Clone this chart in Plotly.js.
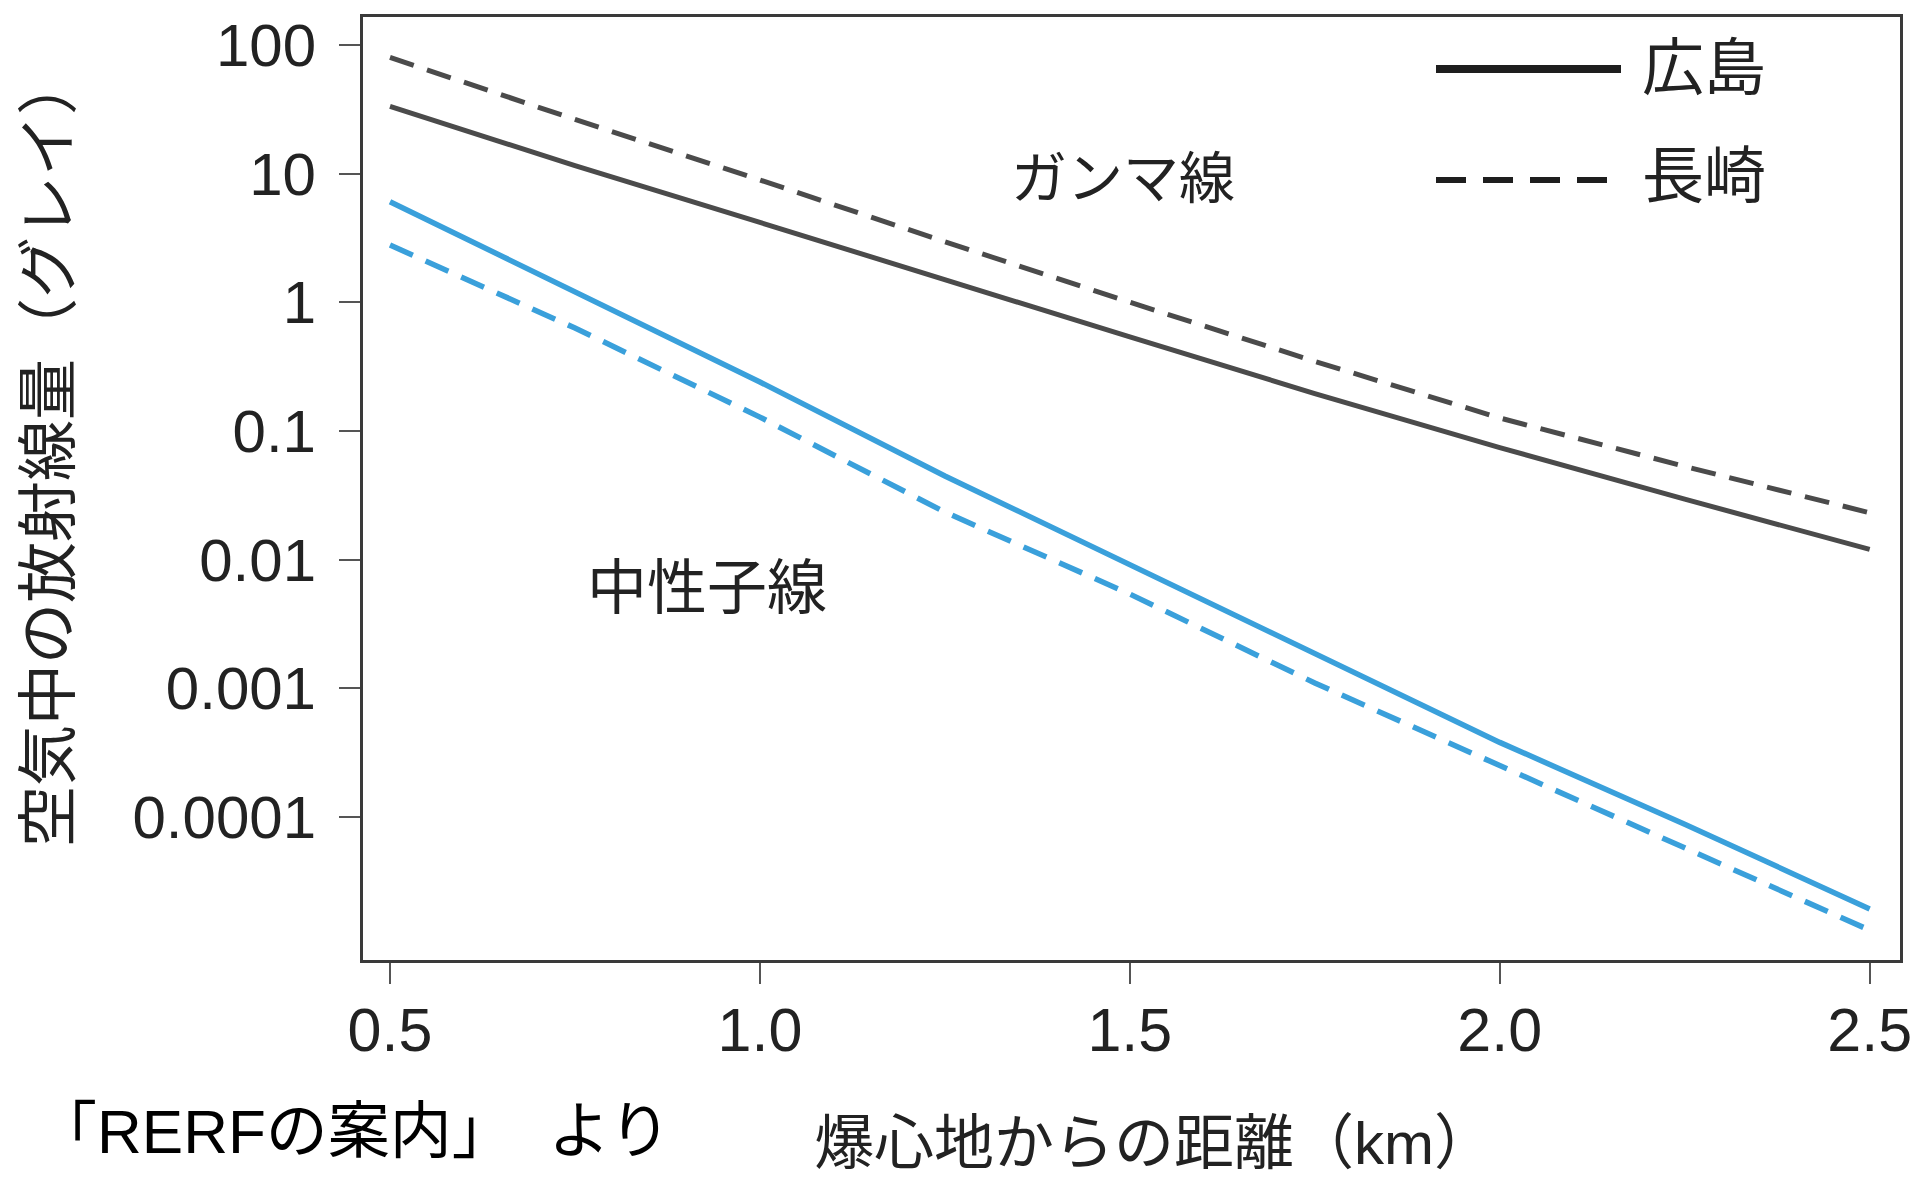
<!DOCTYPE html>
<html>
<head>
<meta charset="utf-8">
<script src="https://cdn.plot.ly/plotly-3.0.1.min.js"></script>
<style>
  html, body { margin: 0; padding: 0; background: #ffffff; }
  #chart { width: 1917px; height: 1183px; }
</style>
</head>
<body>
<div id="chart"></div>
<script>
// ---- data ----
const distanceKm = [0.5, 0.75, 1.0, 1.25, 1.5, 1.75, 2.0, 2.25, 2.5];
const gammaHiroshima   = [33.2, 11.5, 4.17, 1.48, 0.537, 0.195, 0.0741, 0.0295, 0.0120];
const gammaNagasaki    = [79.8, 26.3, 8.91, 2.95, 1.00, 0.347, 0.126, 0.0530, 0.0231];
const neutronHiroshima = [6.04, 1.22, 0.240, 0.0447, 0.00912, 0.00191, 0.000380, 0.0000880, 0.0000193];
const neutronNagasaki  = [2.78, 0.630, 0.128, 0.0234, 0.00540, 0.00110, 0.000251, 0.0000582, 0.0000132];
const yTickVals  = [100, 10, 1, 0.1, 0.01, 0.001, 0.0001];
const yTickText  = ['100', '10', '1', '0.1', '0.01', '0.001', '0.0001'];
const xTickVals  = [0.5, 1.0, 1.5, 2.0, 2.5];
const xTickText  = ['0.5', '1.0', '1.5', '2.0', '2.5'];
const cityNames  = ['広島', '長崎'];
const rayLabels  = ['ガンマ線', '中性子線'];
const xTitle     = '爆心地からの距離（km）';
const yTitle     = '空気中の放射線量（グレイ）';
const sourceNote = '「RERFの案内」\u00A0 より';

// ---- style ----
const FONT = 'Liberation Sans, Arial, Noto Sans CJK JP, sans-serif';
const GREY = '#4b4b4b';
const BLUE = '#3aa0db';
const TXT  = '#222222';

const W = 1917, H = 1183;
const M = {l: 363, r: 17, t: 17, b: 223};
const PW = W - M.l - M.r, PH = H - M.t - M.b;
const px = v => (v - M.l) / PW;
const py = v => 1 - (v - M.t) / PH;

const traces = [
  {x: distanceKm, y: gammaHiroshima, mode: 'lines', name: cityNames[0] + ' ' + rayLabels[0],
   line: {color: GREY, width: 5, dash: 'solid'}, showlegend: false},
  {x: distanceKm, y: gammaNagasaki, mode: 'lines', name: cityNames[1] + ' ' + rayLabels[0],
   line: {color: GREY, width: 5, dash: '25px,14px'}, showlegend: false},
  {x: distanceKm, y: neutronHiroshima, mode: 'lines', name: cityNames[0] + ' ' + rayLabels[1],
   line: {color: BLUE, width: 5.5, dash: 'solid'}, showlegend: false},
  {x: distanceKm, y: neutronNagasaki, mode: 'lines', name: cityNames[1] + ' ' + rayLabels[1],
   line: {color: BLUE, width: 5.5, dash: '25px,14px'}, showlegend: false}
];

const layout = {
  width: W, height: H,
  margin: M,
  paper_bgcolor: '#ffffff',
  plot_bgcolor: '#ffffff',
  showlegend: false,
  font: {family: FONT, color: TXT, size: 56},
  xaxis: {
    range: [0.4635, 2.541],
    tickvals: xTickVals, ticktext: xTickText,
    ticks: 'outside', ticklen: 21, tickwidth: 2, tickcolor: '#555555',
    ticklabelstandoff: -6,
    tickfont: {family: FONT, size: 61, color: TXT},
    showgrid: false, zeroline: false,
    showline: true, linecolor: '#3a3a3a', linewidth: 3, mirror: true,
    title: {text: ''}
  },
  yaxis: {
    type: 'log',
    range: [-5.111, 2.216],
    tickvals: yTickVals, ticktext: yTickText,
    ticks: 'outside', ticklen: 21, tickwidth: 2, tickcolor: '#555555',
    ticklabelstandoff: 11,
    tickfont: {family: FONT, size: 60, color: TXT},
    showgrid: false, zeroline: false,
    showline: true, linecolor: '#3a3a3a', linewidth: 3, mirror: true,
    title: {text: ''}
  },
  shapes: [
    {type: 'line', xref: 'paper', yref: 'paper', x0: px(1436), x1: px(1621), y0: py(69), y1: py(69),
     line: {color: '#1e1e1e', width: 8}},
    {type: 'line', xref: 'paper', yref: 'paper', x0: px(1436), x1: px(1608), y0: py(180), y1: py(180),
     line: {color: '#1e1e1e', width: 6, dash: '30px,17px'}}
  ],
  annotations: [
    {text: yTitle, xref: 'paper', yref: 'paper', x: px(49), y: py(451), xanchor: 'center', yanchor: 'middle',
     textangle: -90, showarrow: false, font: {family: FONT, size: 61, color: TXT}},
    {text: xTitle, xref: 'paper', yref: 'paper', x: px(1154), y: py(1143), xanchor: 'center', yanchor: 'middle',
     showarrow: false, font: {family: FONT, size: 60, color: TXT}},
    {text: cityNames[0], xref: 'paper', yref: 'paper', x: px(1640), y: py(68), xanchor: 'left', yanchor: 'middle',
     showarrow: false, font: {family: FONT, size: 62, color: TXT}},
    {text: cityNames[1], xref: 'paper', yref: 'paper', x: px(1640), y: py(177), xanchor: 'left', yanchor: 'middle',
     showarrow: false, font: {family: FONT, size: 62, color: TXT}},
    {text: rayLabels[0], xref: 'paper', yref: 'paper', x: px(1123), y: py(178), xanchor: 'center', yanchor: 'middle',
     showarrow: false, font: {family: FONT, size: 56, color: TXT}},
    {text: rayLabels[1], xref: 'paper', yref: 'paper', x: px(707), y: py(588), xanchor: 'center', yanchor: 'middle',
     showarrow: false, font: {family: FONT, size: 60, color: TXT}},
    {text: sourceNote, xref: 'paper', yref: 'paper', x: px(33), y: py(1131), xanchor: 'left', yanchor: 'middle',
     showarrow: false, font: {family: FONT, size: 62, color: '#000000'}}
  ]
};

Plotly.newPlot('chart', traces, layout, {displayModeBar: false, staticPlot: true});
</script>
</body>
</html>
